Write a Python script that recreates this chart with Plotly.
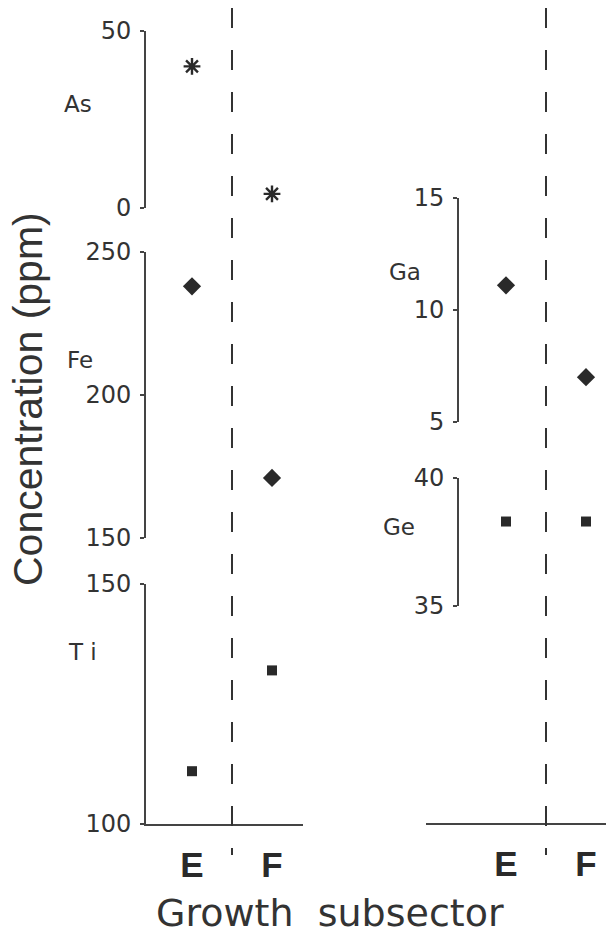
import plotly.graph_objects as go

# ---- data ----
categories = ["E", "F"]
as_vals = [40, 4]
fe_vals = [238, 171]
ti_vals = [111, 132]
ga_vals = [11.1, 7.0]
ge_vals = [38.3, 38.3]

as_ticks = [0, 50]
fe_ticks = [150, 200, 250]
ti_ticks = [100, 150]
ga_ticks = [5, 10, 15]
ge_ticks = [35, 40]

W, H = 606, 936
INK = "#2a2a2a"
LINE = "#444444"
TICKFONT = dict(family="DejaVu Sans", size=24, color="#333333")


def px_x(p):
    return p / W


def px_y(p):
    return 1 - p / H


fig = go.Figure()

mk_ast = dict(symbol="asterisk", size=14, color=INK, line=dict(width=2.4, color=INK))
mk_dia = dict(symbol="diamond", size=14, color=INK, line=dict(width=0))
mk_sq = dict(symbol="square", size=10, color=INK, line=dict(width=0))

fig.add_trace(go.Scatter(x=categories, y=as_vals, mode="markers", marker=mk_ast, xaxis="x", yaxis="y", cliponaxis=False))
fig.add_trace(go.Scatter(x=categories, y=fe_vals, mode="markers", marker=mk_dia, xaxis="x", yaxis="y2", cliponaxis=False))
fig.add_trace(go.Scatter(x=categories, y=ti_vals, mode="markers", marker=mk_sq, xaxis="x", yaxis="y3", cliponaxis=False))
fig.add_trace(go.Scatter(x=categories, y=ga_vals, mode="markers", marker=mk_dia, xaxis="x2", yaxis="y4", cliponaxis=False))
fig.add_trace(go.Scatter(x=categories, y=ge_vals, mode="markers", marker=mk_sq, xaxis="x2", yaxis="y5", cliponaxis=False))


def yax(domain, rng, ticks, anchor="x", position=None):
    d = dict(
        domain=domain, range=rng, tickvals=ticks, ticks="outside", ticklen=4,
        tickwidth=1.5, tickcolor=LINE, showline=True, linewidth=2, linecolor=LINE,
        showgrid=False, zeroline=False, tickfont=TICKFONT, anchor=anchor,
        ticklabelstandoff=4, fixedrange=True, automargin=False,
    )
    if position is not None:
        d["position"] = position
    return d


xcommon = dict(
    type="category", showline=True, linewidth=2, linecolor=LINE, showgrid=False,
    zeroline=False, ticks="", ticklabelstandoff=9, fixedrange=True, automargin=False,
    tickfont=dict(family="Liberation Sans", size=35, color=INK),
    tickvals=categories, ticktext=["<b>%s</b>" % c for c in categories],
)

fig.update_layout(
    width=W, height=H, margin=dict(l=0, r=0, t=0, b=0, pad=0), autosize=False,
    paper_bgcolor="white", plot_bgcolor="white", showlegend=False,
    xaxis=dict(domain=[px_x(146), px_x(303)], range=[-0.575, 1.3875], anchor="y3", **xcommon),
    xaxis2=dict(domain=[px_x(426), 1.0], range=[-1.0, 1.25], anchor="free", position=px_y(824), **xcommon),
    yaxis=yax([px_y(208), px_y(31)], [0, 50], as_ticks),
    yaxis2=yax([px_y(538), px_y(252)], [150, 250], fe_ticks),
    yaxis3=yax([px_y(824), px_y(584)], [100, 150], ti_ticks),
    yaxis4=yax([px_y(422), px_y(198)], [5, 15], ga_ticks, anchor="free", position=px_x(458)),
    yaxis5=yax([px_y(606), px_y(478)], [35, 40], ge_ticks, anchor="free", position=px_x(458)),
)

# dashed separators between E and F
for xr in ["x", "x2"]:
    fig.add_shape(type="line", xref=xr, yref="paper", x0=0.5, x1=0.5, y0=px_y(8), y1=px_y(855),
                  line=dict(color="#333333", width=2, dash="20px,22px"))

lab_font = dict(family="DejaVu Sans", size=23, color="#333333")
labels = [("As", 78, 104), ("Fe", 80, 360), ("T i", 82, 652), ("Ga", 405, 272), ("Ge", 399, 527)]
for txt, lx, ly in labels:
    fig.add_annotation(text=txt, x=px_x(lx), y=px_y(ly), xref="paper", yref="paper",
                       showarrow=False, xanchor="center", yanchor="middle", font=lab_font)

fig.add_annotation(text="Concentration (ppm)", x=px_x(28), y=px_y(399), xref="paper", yref="paper",
                   showarrow=False, textangle=-90, xanchor="center", yanchor="middle",
                   font=dict(family="Liberation Sans", size=41, color="#333333"))
fig.add_annotation(text="Growth\u00a0\u00a0subsector", x=px_x(330), y=px_y(913), xref="paper", yref="paper",
                   showarrow=False, xanchor="center", yanchor="middle",
                   font=dict(family="DejaVu Sans", size=38, color="#333333"))

fig.write_html(
    "out.html",
    config={"displayModeBar": False},
    post_script="document.body.style.margin='0px';document.body.style.overflow='hidden';",
)
